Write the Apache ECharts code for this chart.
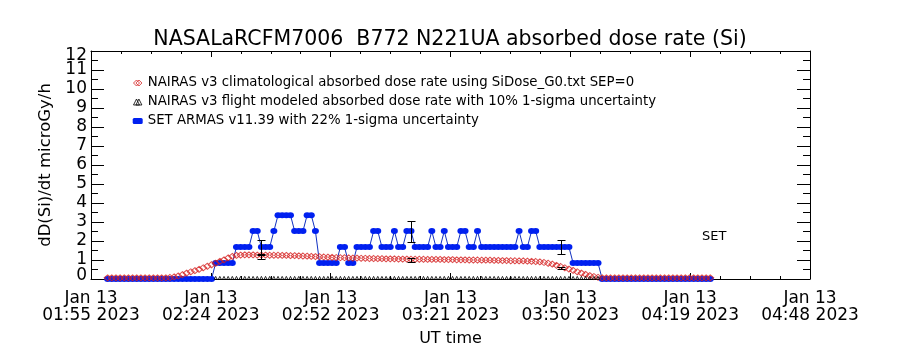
<!DOCTYPE html>
<html><head><meta charset="utf-8">
<script src="https://cdn.jsdelivr.net/npm/echarts@6/dist/echarts.min.js"></script>
<style>html,body{margin:0;padding:0;background:#fff}#c{width:900px;height:350px}</style>
</head><body><div id="c"></div>
<script>
// ---------------- data ----------------
const titleText = 'NASALaRCFM7006  B772 N221UA absorbed dose rate (Si)';
const yAxisTitle = 'dD(Si)/dt microGy/h';
const xAxisTitle = 'UT time';
const xTickLabels = ['Jan 13\n01:55 2023','Jan 13\n02:24 2023','Jan 13\n02:52 2023','Jan 13\n03:21 2023','Jan 13\n03:50 2023','Jan 13\n04:19 2023','Jan 13\n04:48 2023'];
const xRangeMinutes = 173;           // axis span (minutes after 01:55)
// y tick labels 1..11 sit on their ticks; the end labels 0 and 12 sit just inside the frame
const yLabelValues = [1, 2, 3, 4, 5, 6, 7, 8, 9, 10, 11];
const yEndLabelValues = [0.18, 11.76];
const yEndLabelTexts  = ['0', '12'];
const legendNames = [
  'NAIRAS v3 climatological absorbed dose rate using SiDose_G0.txt SEP=0',
  'NAIRAS v3 flight modeled absorbed dose rate with 10% 1-sigma uncertainty',
  'SET ARMAS v11.39 with 22% 1-sigma uncertainty'
];
// samples: one per minute, first sample at minute 4
const sampleStartMinute = 4;
const setArmas = [
 0,0,0,0,0,0,0,0,0,0,0,0,0,0,0,0,0,0,0,0,0,0,0,0,0,0,
 0.84,0.84,0.84,0.84,0.84,
 1.68,1.68,1.68,1.68,
 2.52,2.52,
 1.68,1.68,1.68,
 2.52,
 3.36,3.36,3.36,3.36,
 2.52,2.52,2.52,
 3.36,3.36,
 2.52,
 0.84,0.84,0.84,0.84,0.84,
 1.68,1.68,
 0.84,0.84,
 1.68,1.68,1.68,1.68,
 2.52,2.52,
 1.68,1.68,1.68,
 2.52,
 1.68,1.68,
 2.52,2.52,
 1.68,1.68,1.68,1.68,
 2.52,
 1.68,1.68,
 2.52,
 1.68,1.68,1.68,
 2.52,2.52,
 1.68,1.68,
 2.52,
 1.68,1.68,1.68,1.68,1.68,1.68,1.68,1.68,1.68,
 2.52,
 1.68,1.68,
 2.52,2.52,
 1.68,1.68,1.68,1.68,1.68,1.68,1.68,1.68,
 0.84,0.84,0.84,0.84,0.84,0.84,0.84,
 0,0,0,0,0,0,0,0,0,0,0,0,0,0,0,0,0,0,0,0,0,0,0,0,0,0,0
];
const nairasClimo = [
 0.06,0.06,0.06,0.06,0.06,0.06,0.06,0.06,0.06,0.06,0.06,0.06,0.06,0.06,0.06,
 0.08,0.11,0.16,0.23,0.31,0.38,0.44,0.51,0.59,0.67,0.75,0.83,0.93,1.01,1.11,1.19,1.24,1.26,1.27,
 1.27,1.27,1.26,1.26,1.26,1.25,1.25,1.25,
 1.24,1.24,1.23,1.23,1.22,1.21,1.2,1.19,1.18,1.17,
 1.16,1.15,1.14,1.13,1.12,1.12,1.11,1.1,1.1,1.09,
 1.09,1.08,1.08,1.07,1.07,1.06,1.06,1.06,1.05,1.05,
 1.05,1.04,1.04,1.04,1.04,1.03,1.03,1.03,1.03,1.02,
 1.02,1.02,1.01,1.01,1.01,1.0,1.0,1.0,0.99,0.99,
 0.99,0.98,0.98,0.97,0.97,0.96,0.96,0.95,0.95,0.94,
 0.93,0.92,0.9,0.87,0.83,
 0.78,0.72,0.66,0.59,0.52,0.45,0.38,0.31,0.24,0.18,0.13,0.09,
 0.06,0.06,0.06,0.06,0.06,0.06,0.06,0.06,0.06,0.06,0.06,0.06,0.06,0.06,0.06,0.06,0.06,0.06,0.06,0.06,0.06,0.06,0.06,0.06,0.06,0.06,0.06
];
// flight-modelled markers along the base line (minutes 30..122)
const flightStartMinute = 30;
const flightBase = [
 0.06,0.06,0.06,0.06,0.06,0.06,0.06,0.06,0.06,0.06,0.06,0.06,0.06,0.06,0.06,0.06,0.06,0.06,0.06,0.06,
 0.06,0.06,0.06,0.06,0.06,0.06,0.06,0.06,0.06,0.06,0.06,0.06,0.06,0.06,0.06,0.06,0.06,0.06,0.06,0.06,
 0.06,0.06,0.06,0.06,0.06,0.06,0.06,0.06,0.06,0.06,0.06,0.06,0.06,0.06,0.06,0.06,0.06,0.06,0.06,0.06,
 0.06,0.06,0.06,0.06,0.06,0.06,0.06,0.06,0.06,0.06,0.06,0.06,0.06,0.06,0.06,0.06,0.06,0.06,0.06,0.06,
 0.06,0.06,0.06,0.06,0.06,0.06,0.06,0.06,0.06,0.06,0.06,0.06,0.06
];
// error bars
const errMinutes = [41, 77, 113];
const setErrCenter = [1.68, 2.52, 1.68];
const setErrFrac = 0.22;
const flightErrCenter = [1.15, 1.0, 0.56];
const flightErrFrac = 0.10;
const noteText = 'SET';

// ---------------- build ----------------
const FONT = 'DejaVu Sans';
const xStep = xRangeMinutes / (xTickLabels.length - 1);
const setData = setArmas.map((v, k) => [sampleStartMinute + k, v]);
const climoData = nairasClimo.map((v, k) => [sampleStartMinute + k, v]);
const flightData = flightBase.map((v, k) => [flightStartMinute + k, v]);
const errData = [];
errMinutes.forEach((m, k) => {
  errData.push([m, setErrCenter[k] * (1 - setErrFrac), setErrCenter[k] * (1 + setErrFrac)]);
  errData.push([m, flightErrCenter[k] * (1 - flightErrFrac), flightErrCenter[k] * (1 + flightErrFrac)]);
});

function errRender(params, api) {
  const x = api.value(0);
  const p1 = api.coord([x, api.value(1)]);
  const p2 = api.coord([x, api.value(2)]);
  const cx = Math.round(p1[0]) + 0.5;
  const y1 = Math.round(p1[1]) + 0.5, y2 = Math.round(p2[1]) + 0.5;
  const w = 4;
  const st = { stroke: '#000', lineWidth: 1 };
  return { type: 'group', children: [
    { type: 'line', shape: { x1: cx, y1: y1, x2: cx, y2: y2 }, style: st },
    { type: 'line', shape: { x1: cx - w, y1: y1, x2: cx + w, y2: y1 }, style: st },
    { type: 'line', shape: { x1: cx - w, y1: y2, x2: cx + w, y2: y2 }, style: st }
  ]};
}

const axisLineStyle = { show: true, onZero: false, lineStyle: { color: '#000', width: 1 } };
const xCommon = {
  type: 'value', min: 0, max: xRangeMinutes, interval: xStep,
  axisLine: axisLineStyle, splitLine: { show: false },
  axisTick: { show: true, inside: true, length: 6, lineStyle: { color: '#000' } },
  minorTick: { show: true, splitNumber: 4, length: 3, lineStyle: { color: '#000' } },
  minorSplitLine: { show: false }
};
const yCommon = {
  type: 'value', min: 0, max: 12, interval: 1,
  axisLine: axisLineStyle, splitLine: { show: false },
  axisTick: { show: true, inside: true, length: 13, lineStyle: { color: '#000' } },
  minorTick: { show: true, splitNumber: 2, length: 7, lineStyle: { color: '#000' } },
  minorSplitLine: { show: false }
};
const yLabelStyle = { fontFamily: FONT, fontSize: 17, color: '#000', margin: 4, padding: [3, 0, 0, 0] };

const chart = echarts.init(document.getElementById('c'), null, { renderer: 'canvas' });
chart.setOption({
  animation: false,
  backgroundColor: '#fff',
  title: {
    text: titleText, left: 'center', top: 29, padding: 0,
    textStyle: { fontFamily: FONT, fontSize: 20.5, fontWeight: 'normal', color: '#000' }
  },
  grid: { left: 91, right: 90, top: 51, bottom: 71, containLabel: false, outerBoundsMode: 'none' },
  legend: {
    orient: 'vertical', left: 126, top: 71, itemGap: 5,
    itemWidth: 10, itemHeight: 6, selectedMode: false,
    textStyle: { fontFamily: FONT, fontSize: 13.3, color: '#000', lineHeight: 14 },
    data: [
      { name: legendNames[0], icon: 'path://M0,5L5,0L10,5L5,10ZM4,5L9,0L14,5L9,10Z',
        itemStyle: { color: 'none', borderColor: '#d42020', borderWidth: 1 } },
      { name: legendNames[1], icon: 'path://M0,10L5,0L10,10ZM4,10L9,0L14,10Z',
        itemStyle: { color: 'none', borderColor: '#000', borderWidth: 1 } },
      { name: legendNames[2], icon: 'roundRect',
        itemStyle: { color: '#0020f0', borderWidth: 0 } }
    ]
  },
  xAxis: [
    Object.assign({}, xCommon, {
      position: 'bottom',
      name: xAxisTitle, nameLocation: 'middle', nameGap: 52,
      nameTextStyle: { fontFamily: FONT, fontSize: 16, color: '#000' },
      axisLabel: {
        show: true, margin: 11, color: '#000', fontFamily: FONT, fontSize: 17, lineHeight: 17,
        showMinLabel: true, showMaxLabel: true, hideOverlap: false,
        formatter: v => xTickLabels[Math.round(v / xStep)] || ''
      }
    }),
    Object.assign({}, xCommon, { position: 'top', axisLabel: { show: false } })
  ],
  yAxis: [
    Object.assign({}, yCommon, {
      position: 'left',
      name: yAxisTitle, nameLocation: 'middle', nameGap: 34,
      nameTextStyle: { fontFamily: FONT, fontSize: 16.5, color: '#000' },
      axisLabel: Object.assign({
        show: true, hideOverlap: false, showMinLabel: true, showMaxLabel: true,
        customValues: yLabelValues,
        formatter: v => String(v)
      }, yLabelStyle)
    }),
    Object.assign({}, yCommon, { position: 'right', axisLabel: { show: false } }),
    {
      type: 'value', min: 0, max: 12, position: 'left', offset: 0,
      axisLine: { show: false }, axisTick: { show: false }, splitLine: { show: false },
      axisLabel: Object.assign({
        show: true, hideOverlap: false, showMinLabel: true, showMaxLabel: true,
        customValues: yEndLabelValues,
        formatter: v => yEndLabelTexts[Math.abs(v - yEndLabelValues[0]) < 1 ? 0 : 1]
      }, yLabelStyle)
    }
  ],
  graphic: [
    { type: 'text', left: 702, top: 230,
      style: { text: noteText, font: '13px "DejaVu Sans"', fill: '#000' } }
  ],
  series: [
    {
      name: legendNames[2], type: 'line', data: setData, xAxisIndex: 0, yAxisIndex: 0,
      symbol: 'circle', symbolSize: [7, 6], showSymbol: true,
      itemStyle: { color: '#0020f0' },
      lineStyle: { color: '#1030c0', width: 1 }, z: 2
    },
    {
      name: legendNames[0], type: 'scatter', data: climoData, xAxisIndex: 0, yAxisIndex: 0,
      symbol: 'diamond', symbolSize: [7, 6],
      itemStyle: { color: 'none', borderColor: '#d42020', borderWidth: 1 }, z: 3
    },
    {
      name: legendNames[1], type: 'scatter', data: flightData, xAxisIndex: 0, yAxisIndex: 0,
      symbol: 'triangle', symbolSize: [3, 3],
      itemStyle: { color: 'none', borderColor: '#000', borderWidth: 1 }, z: 4
    },
    {
      name: 'errors', type: 'custom', data: errData, xAxisIndex: 0, yAxisIndex: 0,
      renderItem: errRender, z: 5, silent: true
    }
  ]
});
</script>
</body></html>
